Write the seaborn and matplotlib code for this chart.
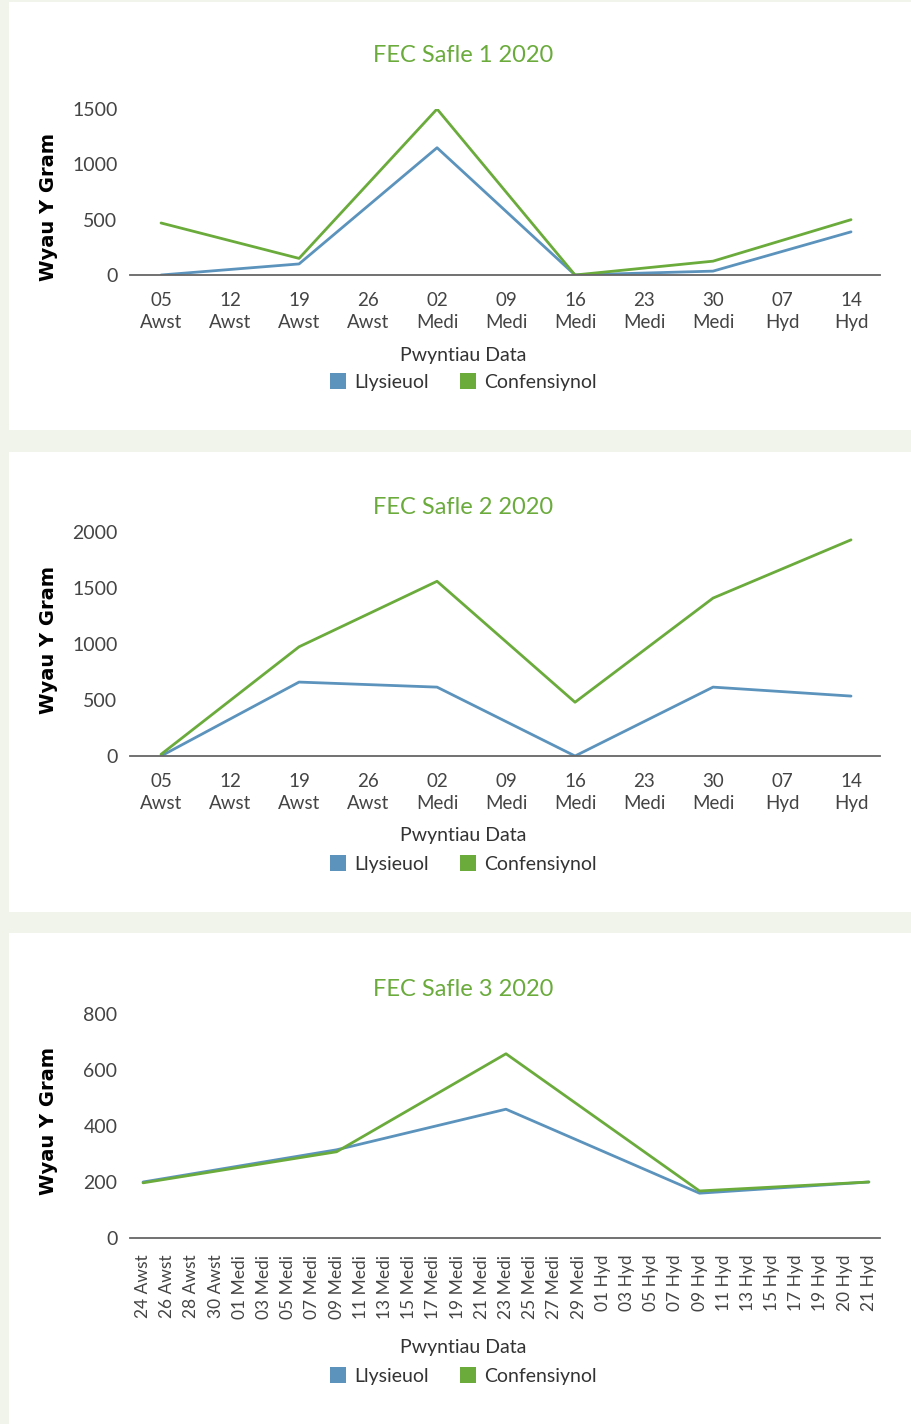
import pandas as pd
import matplotlib.pyplot as plt
import seaborn as sns
from matplotlib.patches import Patch, Rectangle

sns.set_theme(style="white")
plt.rcParams["font.family"] = ["Lato", "DejaVu Sans"]

# --- data -------------------------------------------------------------
weekly_dates = ["05\nAwst", "12\nAwst", "19\nAwst", "26\nAwst", "02\nMedi", "09\nMedi",
                "16\nMedi", "23\nMedi", "30\nMedi", "07\nHyd", "14\nHyd"]
sample_dates_12 = ["05\nAwst", "19\nAwst", "02\nMedi", "16\nMedi", "30\nMedi", "14\nHyd"]

site1_llysieuol = [0, 100, 1150, 0, 35, 390]
site1_confensiynol = [470, 150, 1500, 0, 125, 500]

site2_llysieuol = [0, 660, 615, 0, 615, 535]
site2_confensiynol = [15, 975, 1560, 480, 1410, 1930]

daily_dates = ["24 Awst", "26 Awst", "28 Awst", "30 Awst",
               "01 Medi", "03 Medi", "05 Medi", "07 Medi", "09 Medi", "11 Medi", "13 Medi",
               "15 Medi", "17 Medi", "19 Medi", "21 Medi", "23 Medi", "25 Medi", "27 Medi",
               "29 Medi",
               "01 Hyd", "03 Hyd", "05 Hyd", "07 Hyd", "09 Hyd", "11 Hyd", "13 Hyd",
               "15 Hyd", "17 Hyd", "19 Hyd", "20 Hyd", "21 Hyd"]
sample_dates_3 = ["24 Awst", "09 Medi", "23 Medi", "09 Hyd", "21 Hyd"]
site3_llysieuol = [200, 315, 460, 160, 200]
site3_confensiynol = [197, 308, 658, 168, 200]

series_names = ["Llysieuol", "Confensiynol"]
colors = {"Llysieuol": "#5b93bd", "Confensiynol": "#6aab3c"}
title_color = "#6aab3c"
bg_color = "#f1f4ea"

W, H = 912, 1424
fig = plt.figure(figsize=(W / 100, H / 100), dpi=100, facecolor=bg_color)


def fx(px):
    return px / W


def fy(py):
    return 1 - py / H


# white panels (behind the axes)
for top, bottom in [(2, 430), (452, 912), (933, 1424)]:
    fig.patches.append(Rectangle((fx(9), fy(bottom)), fx(W - 9), (bottom - top) / H,
                                 transform=fig.transFigure, facecolor="white",
                                 edgecolor="none", zorder=-5))


def make_df(cats, dates, blue, green):
    rows = []
    for name, vals in zip(series_names, [blue, green]):
        for d, v in zip(dates, vals):
            rows.append({"x": cats.index(d), "value": v, "series": name})
    return pd.DataFrame(rows)


def draw_panel(df, cats, title, ymax, yticks, top_px, bottom_px,
               title_px, xlabel_px, legend_px, ylabel_px, rotate=False):
    ax = fig.add_axes([fx(130), fy(bottom_px), fx(750), (bottom_px - top_px) / H])
    sns.lineplot(data=df, x="x", y="value", hue="series", hue_order=series_names,
                 palette=colors, linewidth=2.0, ax=ax, legend=False)
    n = len(cats)
    if rotate:
        ax.set_xlim(-0.54, n - 1 + 0.46)
    else:
        ax.set_xlim(-0.45, n - 1 + 0.42)
    ax.set_ylim(0, ymax)
    ax.set_yticks(yticks)
    ax.set_yticklabels([str(t) for t in yticks], fontsize=14, color="#444444")
    ax.set_xticks(range(n))
    if rotate:
        ax.set_xticklabels(cats, rotation=90, fontsize=12.5, color="#444444")
    else:
        ax.set_xticklabels(cats, fontsize=13.5, color="#444444", linespacing=1.4)
    ax.tick_params(axis="y", length=0, pad=9)
    ax.tick_params(axis="x", length=7, width=1.2, color="#555555", direction="out", pad=5)
    for s in ["top", "right", "left"]:
        ax.spines[s].set_visible(False)
    ax.spines["bottom"].set_color("#666666")
    ax.spines["bottom"].set_linewidth(1.3)
    ax.set_xlabel("")
    ax.set_ylabel("Wyau Y Gram", fontsize=14, fontweight="heavy", color="black",
                  family="DejaVu Sans")
    ax.yaxis.set_label_coords((58 - 130) / 750,
                              (bottom_px - ylabel_px) / (bottom_px - top_px))
    ax.patch.set_alpha(0)
    ax.set_zorder(2)

    fig.text(fx(463), fy(title_px), title, ha="center", va="center",
             fontsize=17, color=title_color)
    fig.text(fx(463), fy(xlabel_px), "Pwyntiau Data", ha="center", va="center",
             fontsize=14, color="#333333")
    handles = [Patch(facecolor=colors[n_], edgecolor="none", label=n_) for n_ in series_names]
    fig.legend(handles=handles, loc="center", bbox_to_anchor=(fx(463), fy(legend_px)),
               ncol=2, frameon=False, fontsize=14, handlelength=0.85, handleheight=0.85,
               handletextpad=0.4, columnspacing=1.6, labelcolor="#333333")
    return ax


df1 = make_df(weekly_dates, sample_dates_12, site1_llysieuol, site1_confensiynol)
df2 = make_df(weekly_dates, sample_dates_12, site2_llysieuol, site2_confensiynol)
df3 = make_df(daily_dates, sample_dates_3, site3_llysieuol, site3_confensiynol)

draw_panel(df1, weekly_dates, "FEC Safle 1 2020", 1500, [0, 500, 1000, 1500],
           109, 275, 56, 355, 382, 207)
draw_panel(df2, weekly_dates, "FEC Safle 2 2020", 2000, [0, 500, 1000, 1500, 2000],
           532, 756, 507, 835, 864, 640)
draw_panel(df3, daily_dates, "FEC Safle 3 2020", 800, [0, 200, 400, 600, 800],
           1014, 1238, 989, 1348, 1376, 1121, rotate=True)

fig.savefig("out.png", dpi=100, facecolor=bg_color)
